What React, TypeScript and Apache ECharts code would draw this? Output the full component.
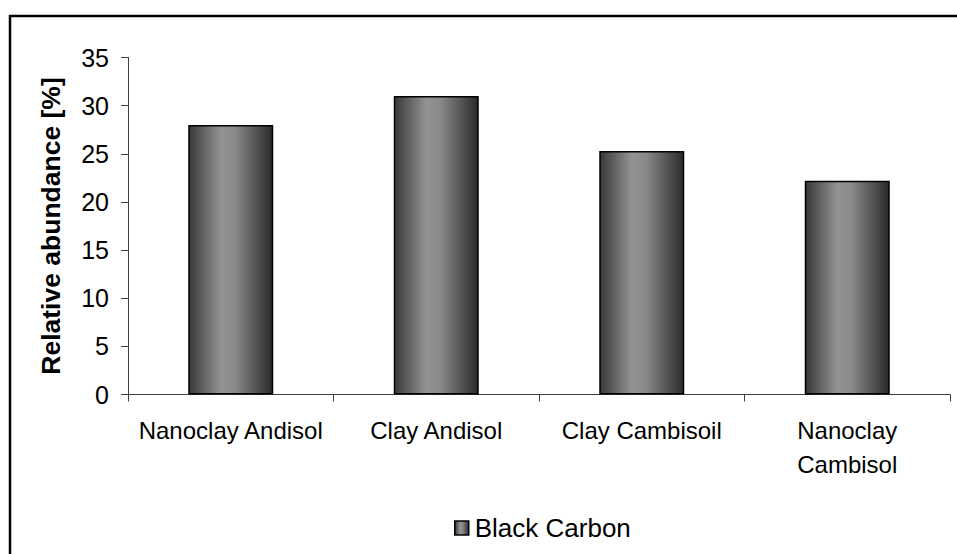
import React, { useEffect, useRef } from "react";
import * as echarts from "echarts";

const categories = ["Nanoclay Andisol", "Clay Andisol", "Clay Cambisoil", "Nanoclay Cambisol"];
const blackCarbon = [28, 31, 25.3, 22.2];
const seriesName = "Black Carbon";
const yAxisName = "Relative abundance [%]";

const FONT = "'Liberation Sans', Arial, sans-serif";

export default function App() {
  const ref = useRef<HTMLDivElement>(null);
  useEffect(() => {
    if (!ref.current) return;
    const chart = echarts.init(ref.current, null, { renderer: "svg" });
    const barGradient = new echarts.graphic.LinearGradient(0, 0, 1, 0, [
      { offset: 0, color: "#383838" },
      { offset: 0.38, color: "#939393" },
      { offset: 0.55, color: "#8a8a8a" },
      { offset: 1, color: "#2a2a2a" },
    ]);
    chart.setOption({
      animation: false,
      backgroundColor: "#ffffff",
      textStyle: { fontFamily: FONT, color: "#000" },
      graphic: [
        {
          type: "rect",
          shape: { x: 10, y: 16, width: 1000, height: 600 },
          style: { fill: "none", stroke: "#000", lineWidth: 2.5 },
          silent: true,
          z: 100,
        },
      ],
      grid: { left: 128, right: 7, top: 57.5, bottom: 159.5, containLabel: false },
      legend: {
        data: [{ name: seriesName, icon: "rect" }],
        left: 449,
        top: 510,
        itemWidth: 14,
        itemHeight: 14,
        itemGap: 10,
        textStyle: { fontFamily: FONT, fontSize: 26, color: "#000", padding: [0, 0, 0, 1] },
        itemStyle: { borderColor: "#000", borderWidth: 1.5 },
      },
      xAxis: {
        type: "category",
        data: categories,
        axisLine: { lineStyle: { color: "#404040", width: 1 } },
        axisTick: { show: true, length: 7, alignWithLabel: false, lineStyle: { color: "#404040" } },
        axisLabel: {
          interval: 0,
          fontFamily: FONT,
          fontSize: 24,
          color: "#000",
          margin: 19,
          lineHeight: 34,
          align: "center",
          formatter: (v: string) => (v.length > 16 ? v.replace(" ", "\n") : v),
        },
      },
      yAxis: {
        type: "value",
        min: 0,
        max: 35,
        interval: 5,
        name: yAxisName,
        nameLocation: "middle",
        nameRotate: 90,
        nameGap: 64,
        nameTextStyle: { fontFamily: FONT, fontSize: 26.5, fontWeight: "bold", color: "#000" },
        axisLine: { show: true, lineStyle: { color: "#404040", width: 1 } },
        axisTick: { show: true, length: 7, lineStyle: { color: "#404040" } },
        splitLine: { show: false },
        axisLabel: { fontFamily: FONT, fontSize: 25, color: "#000", margin: 19 },
      },
      series: [
        {
          name: seriesName,
          type: "bar",
          data: blackCarbon,
          barWidth: 85,
          itemStyle: { color: barGradient, borderColor: "#000", borderWidth: 1.5 },
        },
      ],
    });
    return () => chart.dispose();
  }, []);
  return (
    <div
      ref={ref}
      style={{ position: "absolute", left: 0, top: 0, width: 957, height: 554 }}
    />
  );
}
